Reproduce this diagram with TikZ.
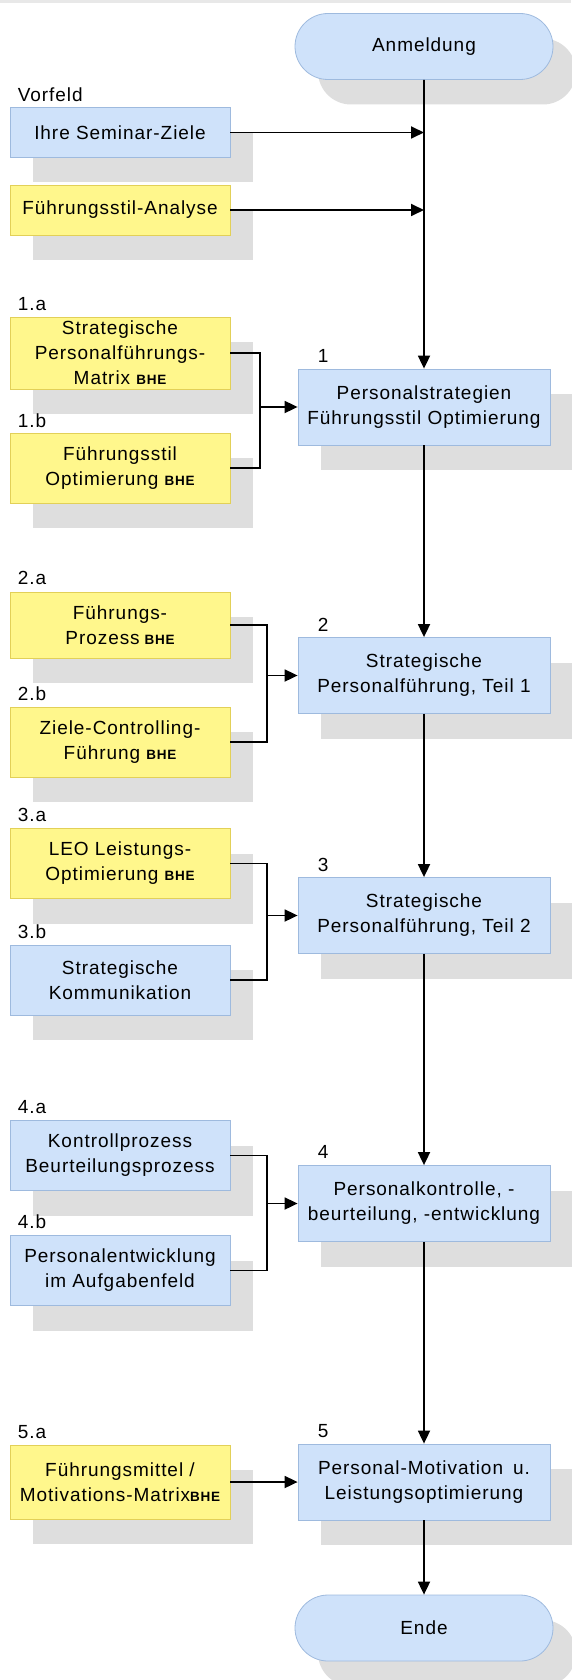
\documentclass[tikz,border=0pt]{standalone}
\usepackage{fontspec}
\setmainfont[LetterSpace=5]{Liberation Sans}
\usepackage{tikz}
\usetikzlibrary{positioning,shadows,arrows.meta,shapes.misc}
\definecolor{boxblue}{RGB}{207,226,250}
\definecolor{lineblue}{RGB}{158,186,222}
\definecolor{boxyellow}{RGB}{255,247,140}
\definecolor{lineyellow}{RGB}{226,208,88}
\definecolor{shadowgray}{RGB}{222,222,222}
\definecolor{topgray}{RGB}{232,232,232}
\newcommand{\bhe}{{\fontsize{13.5}{13.5}\selectfont\bfseries BHE}}

\begin{document}
\begin{tikzpicture}[x=1pt,y=-1pt]
        \tikzstyle{every node}=[font=\fontsize{19}{25}\selectfont, align=center, inner sep=0pt]
        \tikzstyle{box}=[rectangle, line width=0.8pt, copy shadow={shadow xshift=23pt, shadow yshift=-25pt, fill=shadowgray, draw=none}]
        \tikzstyle{bluebox}=[box, fill=boxblue, draw=lineblue]
        \tikzstyle{yellowbox}=[box, fill=boxyellow, draw=lineyellow]
        \tikzstyle{sub}=[minimum width=220pt, minimum height=70pt]
        \tikzstyle{main}=[bluebox, minimum width=252pt, minimum height=76pt]
        \tikzstyle{term}=[bluebox, rounded rectangle, minimum width=258pt, minimum height=66pt]
        \tikzstyle{tag}=[anchor=south west]
        \tikzstyle{conn}=[line width=1.8pt]
        \tikzstyle{arr}=[conn, -{Triangle[length=13pt,width=12pt]}]

        \useasboundingbox (0,0) rectangle (571,1680);
        \fill[topgray] (0,0) rectangle (571,3);

        % Hauptablauf
        \node[term] (Start) at (424,46.5) {Anmeldung};
        \node[main] (Step1) at (424,407) {Personalstrategien\\Führungsstil Optimierung};
        \node[main] (Step2) at (424,675.5) {Strategische\\Personalführung, Teil 1};
        \node[main] (Step3) at (424,915.5) {Strategische\\Personalführung, Teil 2};
        \node[main] (Step4) at (424,1203.5) {Personalkontrolle, -\\beurteilung, -entwicklung};
        \node[main] (Step5) at (424,1482) {Personal-Motivation\hspace{10pt}u.\\Leistungsoptimierung};
        \node[term] (Ende) at (424,1628) {Ende};

        % Vorfeld
        \node[bluebox, sub, minimum height=50pt] (Ziele) at (120,132.5) {Ihre Seminar-Ziele};
        \node[yellowbox, sub, minimum height=50pt] (Analyse) at (120,210) {Führungsstil-Analyse};

        % Bausteine
        \node[yellowbox, sub, minimum height=72pt] (Sub1a) at (120,353) {Strategische\\Personalführungs-\\Matrix \bhe};
        \node[yellowbox, sub] (Sub1b) at (120,468) {Führungsstil\\Optimierung \bhe};
        \node[yellowbox, sub, minimum height=66pt] (Sub2a) at (120,625) {Führungs-\\Prozess\hspace{5pt}\bhe};
        \node[yellowbox, sub] (Sub2b) at (120,742) {Ziele-Controlling-\\Führung \bhe};
        \node[yellowbox, sub] (Sub3a) at (120,863.5) {LEO Leistungs-\\Optimierung \bhe};
        \node[bluebox, sub] (Sub3b) at (120,980) {Strategische\\Kommunikation};
        \node[bluebox, sub] (Sub4a) at (120,1155.5) {Kontrollprozess\\Beurteilungsprozess};
        \node[bluebox, sub] (Sub4b) at (120,1270.5) {Personalentwicklung\\im Aufgabenfeld};
        \node[yellowbox, sub, minimum height=74pt] (Sub5a) at (120,1482) {Führungsmittel /\\Motivations-Matrix\bhe};

        \node[tag, above right=5pt and 8pt of Ziele.north west] {Vorfeld};
        \node[tag, above right=6pt and 8pt of Sub1a.north west] {1.a};
        \node[tag, above right=5pt and 8pt of Sub1b.north west] {1.b};
        \node[tag, above right=7pt and 8pt of Sub2a.north west] {2.a};
        \node[tag, above right=6pt and 8pt of Sub2b.north west] {2.b};
        \node[tag, above right=6pt and 8pt of Sub3b.north west] {3.b};
        \node[tag, above right=6pt and 8pt of Sub3a.north west] {3.a};
        \node[tag, above right=6pt and 8pt of Sub4a.north west] {4.a};
        \node[tag, above right=6pt and 8pt of Sub4b.north west] {4.b};
        \node[tag, above right=6pt and 8pt of Sub5a.north west] {5.a};
        \node[tag, above right=6pt and 20pt of Step1.north west] {1};
        \node[tag, above right=5pt and 20pt of Step2.north west] {2};
        \node[tag, above right=5pt and 20pt of Step3.north west] {3};
        \node[tag, above right=6pt and 20pt of Step4.north west] {4};
        \node[tag, above right=6pt and 20pt of Step5.north west] {5};

        \coordinate (J1) at ([xshift=-38pt]Step1.west);
        \coordinate (J2) at ([xshift=-31pt]Step2.west);
        \coordinate (J3) at ([xshift=-31pt]Step3.west);
        \coordinate (J4) at ([xshift=-31pt]Step4.west);

        \draw[arr] (Start) -- (Step1);
        \draw[arr] (Step1) -- (Step2);
        \draw[arr] (Step2) -- (Step3);
        \draw[arr] (Step3) -- (Step4);
        \draw[arr] (Step4) -- (Step5);
        \draw[arr] (Step5) -- (Ende);

        \draw[arr] (Ziele.east) -- (Ziele.east -| Start.south);
        \draw[arr] (Analyse.east) -- (Analyse.east -| Start.south);

        \draw[conn] (Sub1a.east) -| (J1) |- (Sub1b.east);
        \draw[arr] (J1) -- (Step1.west);
        \draw[conn] (Sub2a.east) -| (J2) |- (Sub2b.east);
        \draw[arr] (J2) -- (Step2.west);
        \draw[conn] (Sub3a.east) -| (J3) |- (Sub3b.east);
        \draw[arr] (J3) -- (Step3.west);
        \draw[conn] (Sub4a.east) -| (J4) |- (Sub4b.east);
        \draw[arr] (J4) -- (Step4.west);
        \draw[arr] (Sub5a.east) -- (Step5.west);
\end{tikzpicture}
\end{document}
